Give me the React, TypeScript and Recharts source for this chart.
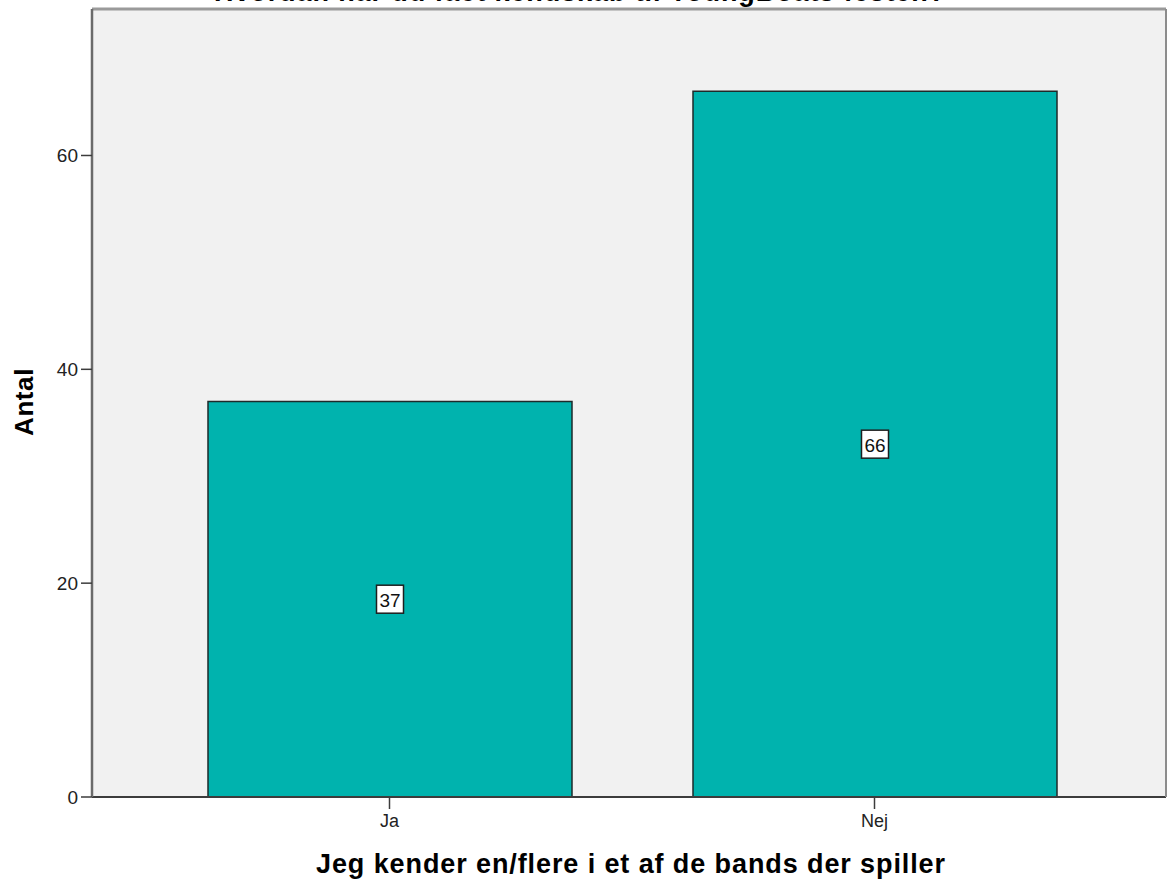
import React from 'react';
import { BarChart, Bar, XAxis, YAxis, CartesianGrid, ReferenceLine, LabelList } from 'recharts';

const categories = ['Ja', 'Nej'];
const counts = [37, 66];
const yTicks = [0, 20, 40, 60];
const yMax = 73.7;

const titleText = 'Hvordan har du fået kendskab til YoungBoats festen?';
const xTitle = 'Jeg kender en/flere i et af de bands der spiller';
const yTitle = 'Antal';

const data = categories.map((c, i) => ({ name: c, value: counts[i] }));

const FONT = '"Liberation Sans", Arial, sans-serif';

const BoxLabel = (props: any) => {
  const { x, y, width, height, value } = props;
  const cx = x + width / 2;
  const cy = y + height / 2;
  const w = 27;
  const h = 28;
  return (
    <g>
      <rect x={cx - w / 2} y={cy - h / 2} width={w} height={h} fill="#ffffff" stroke="#1e1e1e" strokeWidth={1.5} />
      <text x={cx} y={cy + 1} textAnchor="middle" dominantBaseline="central" fontFamily={FONT} fontSize={19} fill="#111">
        {value}
      </text>
    </g>
  );
};

export default function App() {
  return (
    <div style={{ position: 'absolute', left: 0, top: 0, width: 1170, height: 891, background: '#fff', overflow: 'hidden' }}>
      <BarChart
        width={1170}
        height={891}
        data={data}
        margin={{ top: 9, right: 2, bottom: 0, left: 0 }}
        style={{ position: 'absolute', left: 0, top: 0 }}
      >
        <CartesianGrid fill="#f1f1f1" horizontal={false} vertical={false} stroke="none" />
        <XAxis
          dataKey="name"
          height={94}
          padding={{ left: 55, right: 49 }}
          tickSize={12}
          tickMargin={5}
          axisLine={{ stroke: '#3c3c3c', strokeWidth: 2 }}
          tickLine={{ stroke: '#3c3c3c', strokeWidth: 1.5 }}
          tick={{ fontFamily: FONT, fontSize: 18, fill: '#222' }}
        />
        <YAxis
          width={92}
          domain={[0, yMax]}
          ticks={yTicks}
          tickSize={11}
          tickMargin={3}
          axisLine={{ stroke: '#6b6b6b', strokeWidth: 2.5 }}
          tickLine={{ stroke: '#3c3c3c', strokeWidth: 1.5 }}
          tick={{ fontFamily: FONT, fontSize: 19, fill: '#222' }}
          allowDataOverflow
        />
        <YAxis
          yAxisId="right"
          orientation="right"
          width={2}
          domain={[0, yMax]}
          tick={false}
          tickLine={false}
          axisLine={{ stroke: '#8c8c8c', strokeWidth: 2 }}
        />
        <ReferenceLine y={yMax} stroke="#9a9a9a" strokeWidth={3} />
        <Bar dataKey="value" fill="#00b3ae" stroke="#1e2a2a" strokeWidth={1.5} barSize={364} isAnimationActive={false}>
          <LabelList dataKey="value" content={<BoxLabel />} />
        </Bar>
      </BarChart>
      <svg width={1170} height={891} style={{ position: 'absolute', left: 0, top: 0, pointerEvents: 'none' }}>
        <text x={580} y={1} textAnchor="middle" fontFamily={FONT} fontWeight="bold" fontSize={27} letterSpacing={0.9} fill="#000">
          {titleText}
        </text>
        <text x={631} y={873} textAnchor="middle" fontFamily={FONT} fontWeight="bold" fontSize={27} letterSpacing={0.9} fill="#000">
          {xTitle}
        </text>
        <text
          x={0}
          y={0}
          transform="translate(33 402) rotate(-90)"
          textAnchor="middle"
          fontFamily={FONT}
          fontWeight="bold"
          fontSize={26}
          letterSpacing={0.6}
          fill="#000"
        >
          {yTitle}
        </text>
      </svg>
    </div>
  );
}
